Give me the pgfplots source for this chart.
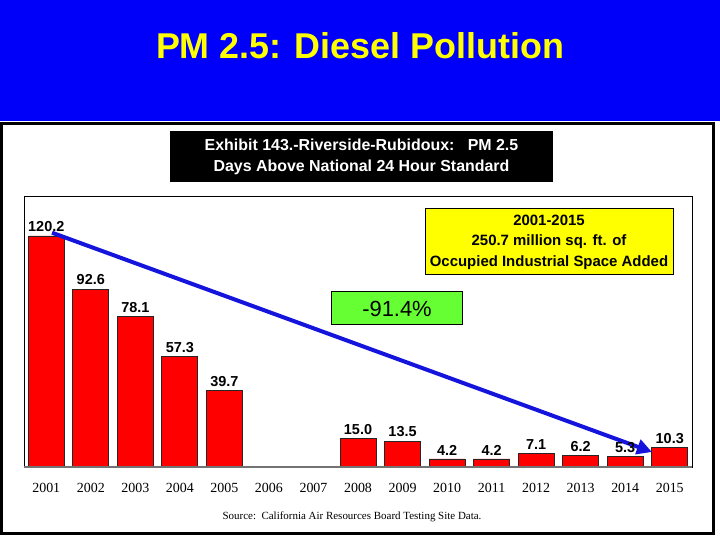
\documentclass[border=0pt]{standalone}
\usepackage{pgfplots}
\pgfplotsset{compat=1.18}
\usepackage{fontspec}
\setmainfont{Liberation Sans}
\newfontfamily\serifont{Liberation Serif}
\usetikzlibrary{arrows.meta}
\definecolor{slideblue}{RGB}{0,0,250}
\definecolor{titleyellow}{RGB}{255,255,0}
\definecolor{barred}{RGB}{255,0,0}
\definecolor{boxgreen}{RGB}{102,255,51}
\definecolor{arrowblue}{RGB}{20,20,220}
\begin{document}
\begin{tikzpicture}[x=1bp,y=1bp]
% slide background
\fill[slideblue] (0,0) rectangle (720,540);
\fill[white] (0,0) rectangle (720,419);
\draw[black, line width=3bp] (1.5,6) rectangle (713.5,416);
% slide title
\node[text=titleyellow, font=\bfseries\fontsize{36}{42}\selectfont] at (360,494) {PM 2.5: Diesel Pollution};
% exhibit title box
\fill[black] (170,358) rectangle (553,409);
\node[text=white, align=center, font=\bfseries\fontsize{16}{21}\selectfont] at (361.5,383.5)
  {Exhibit 143.-Riverside-Rubidoux:\ \ \ PM 2.5\\Days Above National 24 Hour Standard};
\begin{axis}[
  at={(24bp,73bp)}, anchor=south west,
  scale only axis, width=668bp, height=271bp,
  xmin=2000.5, xmax=2015.5, ymin=0, ymax=141,
  axis line style={draw=none},
  xtick={2001,2002,2003,2004,2005,2006,2007,2008,2009,2010,2011,2012,2013,2014,2015},
  xticklabels={2001,2002,2003,2004,2005,2006,2007,2008,2009,2010,2011,2012,2013,2014,2015},
  ytick=\empty,
  major tick length=0pt,
  xticklabel style={font=\serifont\fontsize{14}{16}\selectfont, yshift=-13bp},
  /pgf/number format/assume math mode=true,
  ybar, bar width=36bp,
  nodes near coords={\pgfmathprintnumber[fixed,fixed zerofill,precision=1,assume math mode=true]{\pgfplotspointmeta}},
  every node near coord/.append style={font=\bfseries\fontsize{14.5}{16}\selectfont, anchor=south, inner sep=0pt, yshift=3.5bp, text=black},
  clip=false,
]
\addplot[fill=barred, draw=black!85, line width=0.8bp] coordinates {
  (2001,120.2) (2002,92.6) (2003,78.1) (2004,57.3) (2005,39.7)
  (2008,15.0) (2009,13.5) (2010,4.2) (2011,4.2) (2012,7.1)
  (2013,6.2) (2014,5.3) (2015,10.3)
};
\draw[black, line width=0.8bp] (rel axis cs:0,0) rectangle (rel axis cs:1,1);
\draw[black!55, line width=2bp] (rel axis cs:0,0) -- (rel axis cs:1,0);
\draw[arrowblue, line width=4bp, -{Triangle[length=15bp,width=15bp]}]
  (axis cs:2001.13,121.9) -- (axis cs:2014.6,7.8);
\end{axis}
% yellow box
\draw[black, line width=1bp, fill=titleyellow] (425,265) rectangle (673,331);
\node[align=center, font=\bfseries\fontsize{15}{20.5}\selectfont] at (549,298)
  {2001-2015\\250.7 million sq. ft. of\\Occupied Industrial Space Added};
% green box
\draw[black, line width=1bp, fill=boxgreen] (331,215) rectangle (462,248);
\node[font=\fontsize{22}{24}\selectfont] at (397,231.5) {-91.4\%};
% source
\node[font=\serifont\fontsize{11}{12}\selectfont] at (352,23)
  {Source:\ \ California Air Resources Board Testing Site Data.};
\end{tikzpicture}
\end{document}
